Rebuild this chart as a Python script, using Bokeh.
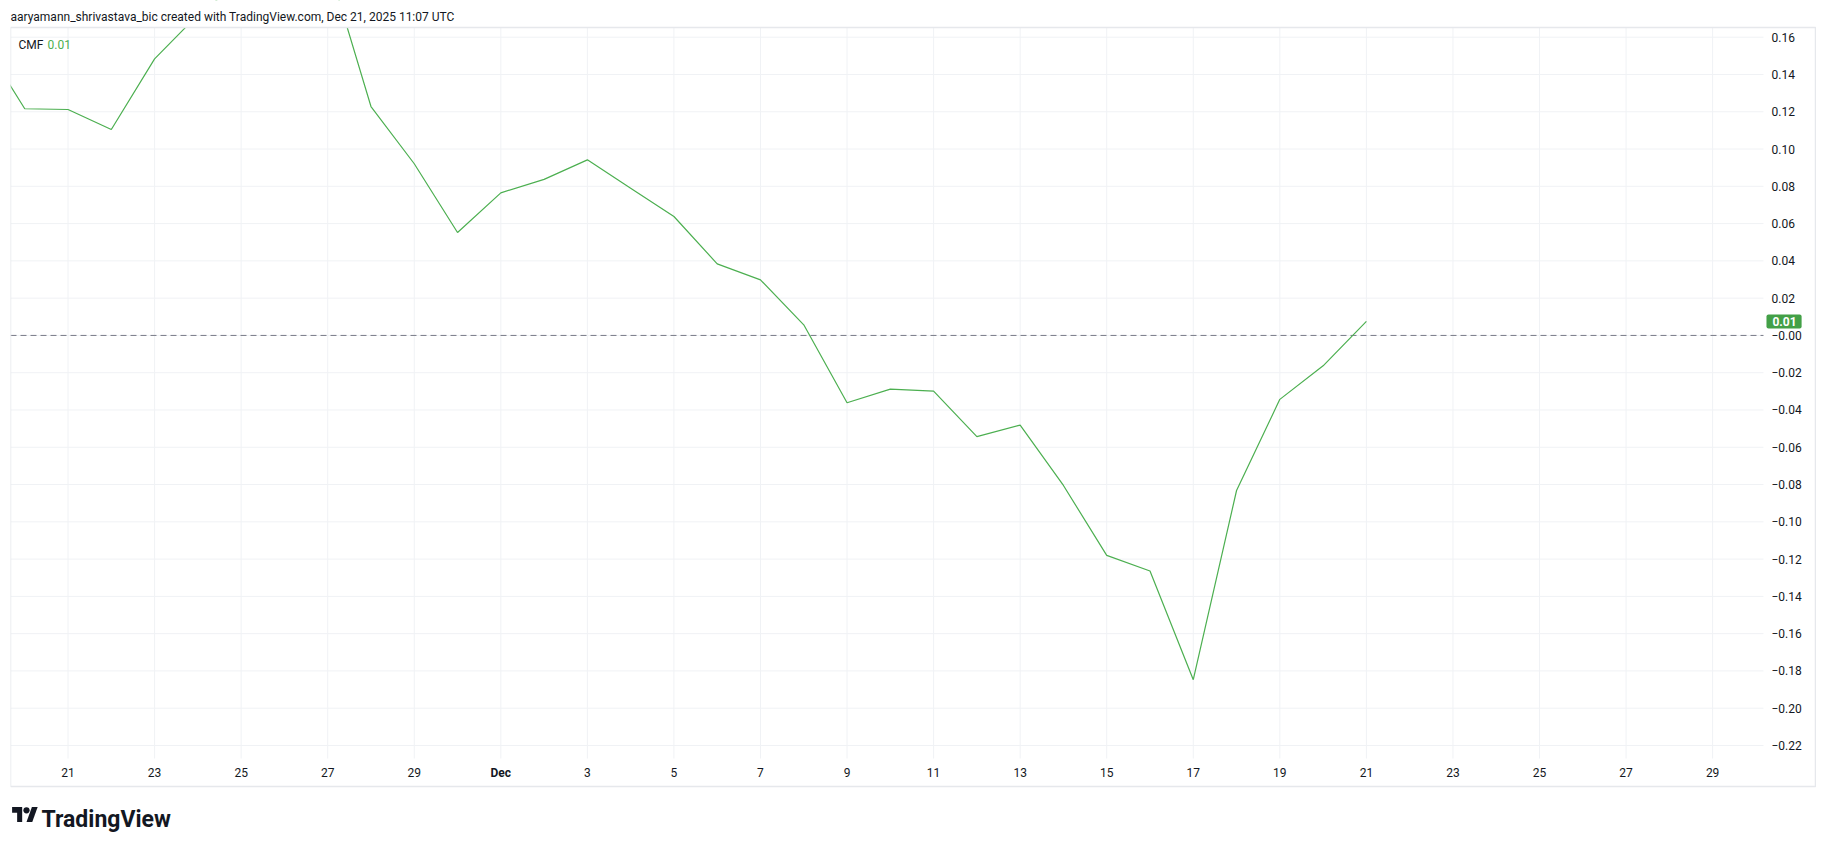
import pandas as pd
from bokeh.plotting import figure
from bokeh.models import Range1d, Label, ColumnDataSource
from bokeh.embed import file_html
from bokeh.resources import INLINE
from bokeh.core.properties import value

# ---------------- data ----------------
dates = ["2025-11-19", "2025-11-20", "2025-11-21", "2025-11-22", "2025-11-23",
         "2025-11-24", "2025-11-25", "2025-11-26", "2025-11-27", "2025-11-28",
         "2025-11-29", "2025-11-30", "2025-12-01", "2025-12-02", "2025-12-03",
         "2025-12-04", "2025-12-05", "2025-12-06", "2025-12-07", "2025-12-08",
         "2025-12-09", "2025-12-10", "2025-12-11", "2025-12-12", "2025-12-13",
         "2025-12-14", "2025-12-15", "2025-12-16", "2025-12-17", "2025-12-18",
         "2025-12-19", "2025-12-20", "2025-12-21"]
cmf = [0.159, 0.1216, 0.1212, 0.1105, 0.1484,
       0.172, 0.190, 0.205, 0.200, 0.1228,
       0.0921, 0.0552, 0.0765, 0.0837, 0.0942,
       0.0790, 0.0638, 0.0384, 0.0298, 0.0057,
       -0.0361, -0.0288, -0.0299, -0.0543, -0.0481,
       -0.0805, -0.1180, -0.1264, -0.1847, -0.0832,
       -0.0343, -0.0163, 0.0075]

y_ticks = [0.16, 0.14, 0.12, 0.10, 0.08, 0.06, 0.04, 0.02, 0.0, -0.02,
           -0.04, -0.06, -0.08, -0.10, -0.12, -0.14, -0.16, -0.18, -0.20, -0.22]
y_tick_labels = ["0.16", "0.14", "0.12", "0.10", "0.08", "0.06", "0.04", "0.02",
                 "\u22120.00", "\u22120.02", "\u22120.04", "\u22120.06", "\u22120.08",
                 "\u22120.10", "\u22120.12", "\u22120.14", "\u22120.16", "\u22120.18",
                 "\u22120.20", "\u22120.22"]
x_tick_dates = ["2025-11-21", "2025-11-23", "2025-11-25", "2025-11-27", "2025-11-29",
                "2025-12-01", "2025-12-03", "2025-12-05", "2025-12-07", "2025-12-09",
                "2025-12-11", "2025-12-13", "2025-12-15", "2025-12-17", "2025-12-19",
                "2025-12-21", "2025-12-23", "2025-12-25", "2025-12-27", "2025-12-29"]
x_tick_labels = ["21", "23", "25", "27", "29", "Dec", "3", "5", "7", "9",
                 "11", "13", "15", "17", "19", "21", "23", "25", "27", "29"]

# visible window: pane (data area) and the whole box including price / time scales
pane_start = "2025-11-19 16:06"
pane_end = "2025-12-30 04:12"
box_end = "2025-12-31 09:03"
pane_top, pane_bottom, box_bottom = 0.1652, -0.2270, -0.2420
time_label_level = -0.2345

header_text = "aaryamann_shrivastava_bic created with TradingView.com, Dec 21, 2025 11:07 UTC"
indicator_name = "CMF"
indicator_value = "0.01"
brand = "TradingView"

# ---------------- helpers ----------------
BASE = pd.Timestamp("2025-11-01")


def day_num(s):
    return (pd.Timestamp(s) - BASE) / pd.Timedelta(days=1) + 1


xs = [day_num(d) for d in dates]
x_ticks = [day_num(d) for d in x_tick_dates]
x0, xp, xb = day_num(pane_start), day_num(pane_end), day_num(box_end)

# page layout (pixels): box spans x 10..1815, y 27..786
W, H = 1816, 846
BOX_L, BOX_R, BOX_T, BOX_B = 10, 1815, 27, 786
D = (BOX_R - BOX_L) / (xb - x0)                # px per day
Y = (BOX_B - BOX_T) / (pane_top - box_bottom)  # px per unit
xr0 = x0 - BOX_L / D
xr1 = xr0 + W / D
yr1 = pane_top + BOX_T / Y
yr0 = yr1 - H / Y


def px_x(px):
    return xr0 + px / D


def px_y(py):
    return yr1 - py / Y


GREEN = "#4caf50"
BADGE = "#43a047"
TEXT = "#131722"
GRID = "#f0f2f5"
BORDER = "#e6e8ec"
FONT = "Roboto"

# the frame starts at the box's left edge so the series is clipped there
p = figure(width=W, height=H, x_range=Range1d(x0, xr1), y_range=Range1d(yr0, yr1),
           x_axis_location=None, y_axis_location=None, output_backend="svg",
           toolbar_location=None, min_border=0, min_border_left=BOX_L,
           background_fill_color="white", border_fill_color="white")
p.grid.visible = False
p.outline_line_color = None

# grid lines of the pane
p.segment(x0=[x0] * len(y_ticks), y0=y_ticks, x1=[xp] * len(y_ticks), y1=y_ticks,
          line_color=GRID, line_width=1)
p.segment(x0=x_ticks, y0=[pane_bottom] * len(x_ticks), x1=x_ticks,
          y1=[pane_top] * len(x_ticks), line_color=GRID, line_width=1)

# zero line
p.segment(x0=[x0], y0=[0], x1=[xp], y1=[0], line_color="#787b86",
          line_dash="6 4", line_width=1)

# series
src = ColumnDataSource(dict(x=xs, y=cmf))
p.line("x", "y", source=src, line_color=GREEN, line_width=1.2)

# mask above the box (the pane clips the series at its top)
mx1 = xr1 + 20 / D
my1 = yr1 + 20 / Y
p.quad(left=[x0 - 20 / D], right=[mx1], bottom=[pane_top], top=[my1],
       fill_color="white", line_color=None)

# chart box
p.quad(left=[x0], right=[xb], bottom=[box_bottom], top=[pane_top],
       fill_color=None, line_color=BORDER, line_width=1.5)

# price scale labels
p.text(x=[xp] * len(y_ticks), y=y_ticks, text=y_tick_labels, x_offset=8,
       text_font=value(FONT), text_font_size="12px", text_color=TEXT,
       text_baseline="middle", text_align="left")

# time scale labels
x_styles = ["bold" if l == "Dec" else "normal" for l in x_tick_labels]
tsrc = ColumnDataSource(dict(x=x_ticks, y=[time_label_level] * len(x_ticks),
                             t=x_tick_labels, st=x_styles))
p.text("x", "y", text="t", source=tsrc, text_font=value(FONT), text_font_size="12px",
       text_font_style="st", text_color=TEXT, text_baseline="middle",
       text_align="center")

# last value badge
p.add_layout(Label(x=xp, y=cmf[-1], x_offset=3, text=indicator_value,
                   text_color="white", text_font=FONT, text_font_style="bold",
                   text_font_size="12px", text_baseline="middle", text_align="left",
                   background_fill_color=BADGE, border_radius=2,
                   padding=dict(left=6, right=5, top=3, bottom=2)))

# legend text
p.add_layout(Label(x=x0, y=pane_top, x_offset=8, y_offset=-17, text=indicator_name,
                   text_color=TEXT, text_font=FONT, text_font_size="12px",
                   text_baseline="alphabetic", text_align="left"))
p.add_layout(Label(x=x0, y=pane_top, x_offset=37, y_offset=-17, text=indicator_value,
                   text_color=GREEN, text_font=FONT, text_font_size="12px",
                   text_baseline="alphabetic", text_align="left"))

# header above the box
p.add_layout(Label(x=x0, y=pane_top, x_offset=0, y_offset=11, text=header_text,
                   text_color=TEXT, text_font=FONT, text_font_size="12px",
                   text_baseline="alphabetic", text_align="left"))

# brand mark below the box
ix0, iy0, sx, sy = 11.6, 806.5, 0.72, 0.83
T_shape = [(0, 4), (14, 4), (14, 22), (7, 22), (7, 11), (0, 11)]
slant = [(20, 22), (27.5, 4), (35.5, 4), (28, 22)]
p.patches([[px_x(ix0 + sx * a) for a, b in T_shape], [px_x(ix0 + sx * a) for a, b in slant]],
          [[px_y(iy0 + sy * (b - 4)) for a, b in T_shape],
           [px_y(iy0 + sy * (b - 4)) for a, b in slant]],
          fill_color=TEXT, line_color=None)
p.circle([px_x(ix0 + sx * 20)], [px_y(iy0 + sy * 4)], radius=3.1 / D,
         fill_color=TEXT, line_color=None)
p.add_layout(Label(x=x0, y=box_bottom, x_offset=31, y_offset=-33, text=brand,
                   text_color=TEXT, text_font=FONT, text_font_style="bold",
                   text_font_size="23px", text_baseline="alphabetic", text_align="left"))

open("out.html", "w").write(file_html(p, INLINE))
